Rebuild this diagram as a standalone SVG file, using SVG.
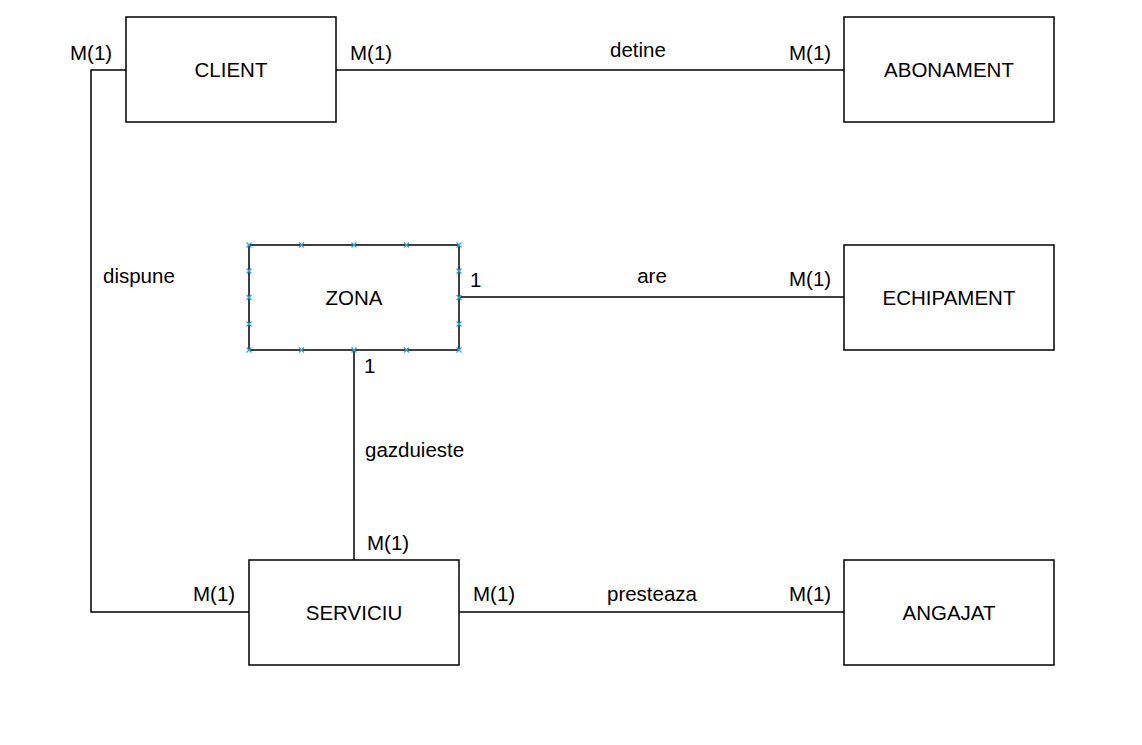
<svg xmlns="http://www.w3.org/2000/svg" width="1142" height="745" viewBox="0 0 1142 745">
<defs>
<style>
.box{fill:#fff;stroke:#000;stroke-width:1.5}
.ln{fill:none;stroke:#000;stroke-width:1.5}
text{font-family:"Liberation Sans",Arial,sans-serif;font-size:20.5px;fill:#000}
.c{text-anchor:middle}
.h{stroke:#29a8e0;stroke-width:1.2}
</style>
<g id="hx"><path class="h" d="M-2.5,-2.5L2.5,2.5M-2.5,2.5L2.5,-2.5"/></g>
</defs>
<rect width="1142" height="745" fill="#fff"/>
<g id="connectors">
<path class="ln" d="M336,70H844"/>
<path class="ln" d="M126,70H91V612H249"/>
<path class="ln" d="M459,297H844"/>
<path class="ln" d="M354,350V560"/>
<path class="ln" d="M459,612H844"/>
<text x="70" y="60">M(1)</text>
<text x="350" y="60">M(1)</text>
<text x="638" y="57" class="c">detine</text>
<text x="789" y="60">M(1)</text>
<text x="103" y="283">dispune</text>
<text x="470" y="287">1</text>
<text x="652" y="283" class="c">are</text>
<text x="789" y="286">M(1)</text>
<text x="364" y="373">1</text>
<text x="365" y="457">gazduieste</text>
<text x="367" y="550">M(1)</text>
<text x="193" y="601">M(1)</text>
<text x="473" y="601">M(1)</text>
<text x="652" y="601" class="c">presteaza</text>
<text x="789" y="601">M(1)</text>
</g>
<g id="client"><rect class="box" x="126" y="17" width="210" height="105"/><text x="231" y="77" class="c">CLIENT</text></g>
<g id="abonament"><rect class="box" x="844" y="17" width="210" height="105"/><text x="949" y="77" class="c">ABONAMENT</text></g>
<g id="zona"><rect class="box" x="249" y="245" width="210" height="105"/><text x="354" y="305" class="c">ZONA</text>
<use href="#hx" x="249" y="245"/><use href="#hx" x="301.5" y="245"/><use href="#hx" x="354" y="245"/><use href="#hx" x="406.5" y="245"/><use href="#hx" x="459" y="245"/>
<use href="#hx" x="249" y="350"/><use href="#hx" x="301.5" y="350"/><use href="#hx" x="354" y="350"/><use href="#hx" x="406.5" y="350"/><use href="#hx" x="459" y="350"/>
<use href="#hx" x="249" y="271"/><use href="#hx" x="249" y="297.5"/><use href="#hx" x="249" y="324"/>
<use href="#hx" x="459" y="271"/><use href="#hx" x="459" y="297.5"/><use href="#hx" x="459" y="324"/>
</g>
<g id="echipament"><rect class="box" x="844" y="245" width="210" height="105"/><text x="949" y="305" class="c">ECHIPAMENT</text></g>
<g id="serviciu"><rect class="box" x="249" y="560" width="210" height="105"/><text x="354" y="620" class="c">SERVICIU</text></g>
<g id="angajat"><rect class="box" x="844" y="560" width="210" height="105"/><text x="949" y="620" class="c">ANGAJAT</text></g>
</svg>
